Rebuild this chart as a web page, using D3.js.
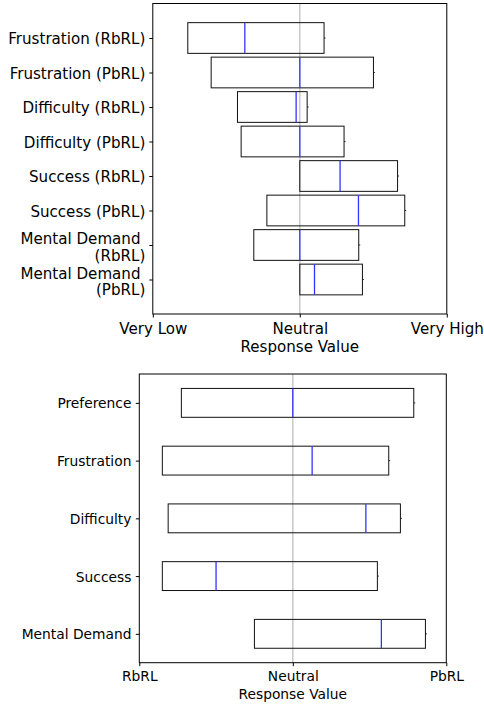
<!DOCTYPE html>
<html><head><meta charset="utf-8">
<script src="https://cdn.jsdelivr.net/npm/d3@7"></script>
<style>body{margin:0;background:#fff}svg{display:block}text{font-family:"DejaVu Sans",sans-serif;fill:#000}</style>
</head><body>
<svg id="c" width="484" height="704"></svg>
<script>
// Top chart data (response values on a -1 .. 1 scale)
const topCategories = ["Frustration (RbRL)","Frustration (PbRL)","Difficulty (RbRL)","Difficulty (PbRL)","Success (RbRL)","Success (PbRL)","Mental Demand \n(RbRL)","Mental Demand \n(PbRL)"];
const topQ1     = [-0.762,-0.603,-0.424,-0.399, 0.000,-0.224,-0.313, 0.000];
const topMedian = [-0.374, 0.000,-0.025, 0.000, 0.274, 0.399, 0.000, 0.100];
const topQ3     = [ 0.165, 0.501, 0.050, 0.301, 0.665, 0.714, 0.401, 0.426];
const topTickLabels = ["Very Low","Neutral","Very High"];

// Bottom chart data
const botCategories = ["Preference","Frustration","Difficulty","Success","Mental Demand"];
const botQ1     = [-0.726,-0.850,-0.812,-0.850,-0.250];
const botMedian = [ 0.000, 0.126, 0.476,-0.500, 0.577];
const botQ3     = [ 0.788, 0.625, 0.701, 0.551, 0.864];
const botTickLabels = ["RbRL","Neutral","PbRL"];

const svg = d3.select("#c");

function panel(cfg){
  const {left,right,top,bottom,cats,q1,med,q3,ticks,yDomain,boxH,fs} = cfg;
  const g = svg.append("g").style("font-size",fs+"px");
  const x = d3.scaleLinear().domain([-1,1]).range([left,right]);
  const y = d3.scaleLinear().domain(yDomain).range([top,bottom]);
  // neutral line
  g.append("line").attr("x1",x(0)).attr("x2",x(0)).attr("y1",top).attr("y2",bottom)
    .attr("stroke","#c8c8c8").attr("stroke-width",1.5);
  const data = cats.map((c,i)=>({c,i,q1:q1[i],med:med[i],q3:q3[i]}));
  const bh = y(boxH) - y(0);
  const items = g.selectAll("g.b").data(data).join("g");
  // whisker stubs/caps
  items.append("line").attr("x1",d=>x(d.q3)).attr("x2",d=>x(d.q3)+1.5)
    .attr("y1",d=>y(d.i+1)).attr("y2",d=>y(d.i+1)).attr("stroke","#333").attr("stroke-width",1);
  items.append("rect").attr("x",d=>x(d.q1)).attr("width",d=>x(d.q3)-x(d.q1))
    .attr("y",d=>y(d.i+1)-bh/2).attr("height",bh)
    .attr("fill","none").attr("stroke","#111").attr("stroke-width",1);
  items.append("line").attr("x1",d=>x(d.med)).attr("x2",d=>x(d.med))
    .attr("y1",d=>y(d.i+1)-bh/2).attr("y2",d=>y(d.i+1)+bh/2)
    .attr("stroke","#3333ff").attr("stroke-width",1.3);
  // frame
  g.append("rect").attr("x",left).attr("y",top).attr("width",right-left).attr("height",bottom-top)
    .attr("fill","none").attr("stroke","#000").attr("stroke-width",1);
  // x axis
  const xa = g.append("g").attr("transform",`translate(0,${bottom})`)
    .call(d3.axisBottom(x).tickValues([-1,0,1]).tickFormat((d,i)=>ticks[i]).tickSize(3.5).tickPadding(0));
  xa.select(".domain").remove();
  xa.attr("font-size",null).attr("font-family",null);
  xa.selectAll(".tick line").attr("stroke","#000").attr("stroke-width",1);
  xa.selectAll(".tick text").attr("y",cfg.xLabelBase - bottom).attr("dy",null).attr("fill","#000");
  // y axis
  const ya = g.append("g").attr("transform",`translate(${left},0)`)
    .call(d3.axisLeft(y).tickValues(cats.map((c,i)=>i+1)).tickFormat("").tickSize(3.5));
  ya.select(".domain").remove();
  ya.selectAll(".tick line").attr("stroke","#000").attr("stroke-width",1);
  // y labels
  data.forEach(d=>{
    const lines = d.c.split("\n");
    const t = g.append("text").attr("text-anchor","end").style("white-space","pre");
    const yy = y(d.i+1);
    if(lines.length===1){
      t.append("tspan").attr("x",left-cfg.labPad).attr("y",yy+cfg.labShift).text(lines[0]);
    } else {
      t.append("tspan").attr("x",left-cfg.labPad).attr("y",yy-1).text(lines[0]);
      t.append("tspan").attr("x",left-cfg.labPad).attr("y",yy+15.8).text(lines[1]);
    }
  });
  g.append("text").attr("x",(left+right)/2).attr("y",cfg.titleBase).attr("text-anchor","middle").text("Response Value");
}

panel({left:152.8,right:446.8,top:3.5,bottom:314,cats:topCategories,q1:topQ1,med:topMedian,q3:topQ3,
  ticks:topTickLabels,yDomain:[0,9],boxH:0.89,xLabelBase:333.7,titleBase:352,fs:15.1,labPad:7.5,labShift:6});
panel({left:139.3,right:446.3,top:374,bottom:662.7,cats:botCategories,q1:botQ1,med:botMedian,q3:botQ3,
  ticks:botTickLabels,yDomain:[0.5,5.5],boxH:0.5,xLabelBase:681,titleBase:699,fs:13.8,labPad:7.9,labShift:5.5});
</script>
</body></html>
